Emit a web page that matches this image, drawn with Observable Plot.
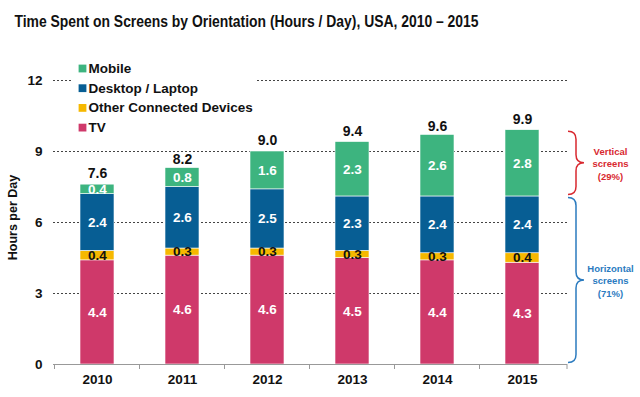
<!DOCTYPE html>
<html><head><meta charset="utf-8">
<script src="https://cdn.jsdelivr.net/npm/d3@7"></script>
<script src="https://cdn.jsdelivr.net/npm/@observablehq/plot@0.6"></script>
<style>body{margin:0;background:#fff} svg{display:block}</style>
</head><body><div id="chart"></div>
<script>
// ---- data ----
const years = ["2010", "2011", "2012", "2013", "2014", "2015"];
const series = ["TV", "Other Connected Devices", "Desktop / Laptop", "Mobile"];
const tv = [4.4, 4.6, 4.6, 4.5, 4.4, 4.3];
const other = [0.4, 0.3, 0.3, 0.3, 0.3, 0.4];
const desktop = [2.4, 2.6, 2.5, 2.3, 2.4, 2.4];
const mobile = [0.4, 0.8, 1.6, 2.3, 2.6, 2.8];
const totals = [7.6, 8.2, 9.0, 9.4, 9.6, 9.9];
const colors = ["#CF396A", "#F6B800", "#075E94", "#3DB47F"];
const yTicks = [0, 3, 6, 9, 12];
const title = "Time Spent on Screens by Orientation (Hours / Day), USA, 2010 – 2015";
const yLabel = "Hours per Day";
const braceLabels = ["Vertical\nscreens\n(29%)", "Horizontal\nscreens\n(71%)"];
const braceColors = ["#D8282F", "#2B7BBF"];

// ---- layout ----
const W = 640, H = 397, mL = 53, mR = 73, mT = 80, mB = 33;

const rows = years.flatMap((yr, i) => [
  {year: yr, series: series[0], value: tv[i]},
  {year: yr, series: series[1], value: other[i]},
  {year: yr, series: series[2], value: desktop[i]},
  {year: yr, series: series[3], value: mobile[i]}
]);
const colorOf = Object.fromEntries(series.map((s, i) => [s, colors[i]]));
const legendOrder = [...series].reverse();

const last = years.length - 1;
const horizTop = tv[last] + other[last] + desktop[last];
const vertTop = horizTop + mobile[last];
const braces = [
  {lo: horizTop, hi: vertTop, label: braceLabels[0], color: braceColors[0]},
  {lo: 0, hi: horizTop, label: braceLabels[1], color: braceColors[1]}
];

const legendMarks = legendOrder.flatMap((s, i) => [
  Plot.dot([s], {frameAnchor: "top-left", dx: 82 - mL, dy: 68 + i * 19.7 - mT,
    symbol: "square", r: 4.4, fill: colorOf[s], stroke: null}),
  Plot.text([s], {frameAnchor: "top-left", dx: 88 - mL, dy: 68 + i * 19.7 - mT,
    text: d => d, textAnchor: "start", lineAnchor: "middle", fontSize: 13.5, fontWeight: "bold", fill: "#111"})
]);

const chart = Plot.plot({
  width: W, height: H,
  marginLeft: mL, marginRight: mR, marginTop: mT, marginBottom: mB,
  style: {fontFamily: "'Liberation Sans', Arial, sans-serif", fontWeight: "bold", fontSize: "13.5px", color: "#111", background: "#fff"},
  x: {domain: years, paddingInner: 0.6, paddingOuter: 0.3, tickSize: 0, tickPadding: 10, label: null},
  y: {domain: [0, 12], ticks: yTicks, tickSize: 0, tickPadding: 11, label: null},
  color: {type: "identity"},
  marks: [
    Plot.ruleY(yTicks.filter(t => t > 0), {stroke: "#444", strokeDasharray: "2,2", strokeWidth: 1}),
    Plot.barY(rows, Plot.stackY({x: "year", y: "value", fill: d => colorOf[d.series], stroke: "white", strokeWidth: 0.6})),
    Plot.text(rows, Plot.stackY({x: "year", y: "value", text: d => d.value.toFixed(1),
      fill: d => d.series === series[1] ? "#111" : "white", fontSize: 13.5, fontWeight: "bold"})),
    Plot.text(years, {x: d => d, y: (d, i) => totals[i], text: (d, i) => totals[i].toFixed(1),
      dy: -11, fontSize: 14, fontWeight: "bold", fill: "#111"}),
    Plot.text([yLabel], {frameAnchor: "left", dx: -41, dy: -5, rotate: -90, textAnchor: "middle", lineAnchor: "middle",
      fontSize: 12.5, fontWeight: "bold", fill: "#111"}),
    Plot.text([title], {frameAnchor: "top-left", dx: 14 - mL, dy: 21 - mT, textAnchor: "start", lineAnchor: "middle",
      fontSize: 16, fontWeight: "bold", fill: "#111", className: "chart-title"}),
    Plot.text(braces, {y: d => (d.lo + d.hi) / 2, frameAnchor: "right", dx: 43, text: "label",
      fill: "color", lineHeight: 1.3, fontSize: 9.5, fontWeight: "bold", textAnchor: "middle"}),
    ...legendMarks
  ]
});

document.getElementById("chart").appendChild(chart);

// ---- post-process: title width, legend background, x baseline & ticks, braces ----
const svg = d3.select(chart);
svg.selectAll(".chart-title text").attr("textLength", 464).attr("lengthAdjust", "spacingAndGlyphs");
const xs = chart.scale("x"), ys = chart.scale("y");
const ruleG = chart.querySelector('g[aria-label="rule"]');
const bg = document.createElementNS("http://www.w3.org/2000/svg", "rect");
bg.setAttribute("x", 73); bg.setAttribute("y", 57);
bg.setAttribute("width", 182); bg.setAttribute("height", 78);
bg.setAttribute("fill", "white");
ruleG.parentNode.insertBefore(bg, ruleG.nextSibling);

const y0 = ys.apply(0);
const ax = svg.append("g").attr("stroke", "#999").attr("stroke-width", 1);
ax.append("line").attr("x1", mL).attr("x2", W - mR).attr("y1", y0 + 0.5).attr("y2", y0 + 0.5);
const step = xs.step, bw = xs.bandwidth;
years.forEach((yr, i) => {
  const bx = xs.apply(yr) - (step - bw) / 2;
  ax.append("line").attr("x1", bx).attr("x2", bx).attr("y1", y0).attr("y2", y0 + 5);
});
ax.append("line").attr("x1", W - mR).attr("x2", W - mR).attr("y1", y0).attr("y2", y0 + 5);

function bracePath(x0, yTop, yBot, w) {
  const xv = x0 + w * 0.5, xt = x0 + w, r = w * 0.5, ym = (yTop + yBot) / 2;
  return `M${x0},${yTop} Q${xv},${yTop} ${xv},${yTop + r} L${xv},${ym - r} Q${xv},${ym} ${xt},${ym}` +
         ` Q${xv},${ym} ${xv},${ym + r} L${xv},${yBot - r} Q${xv},${yBot} ${x0},${yBot}`;
}
braces.forEach(b => {
  svg.append("path").attr("d", bracePath(W - mR + 1, ys.apply(b.hi) + 1.5, ys.apply(b.lo) - 1.5, 16))
    .attr("fill", "none").attr("stroke", b.color).attr("stroke-width", 1.5);
});
</script>
</body></html>
